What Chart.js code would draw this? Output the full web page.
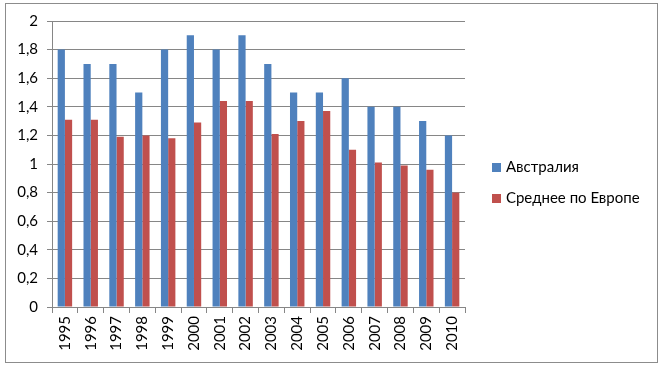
<!DOCTYPE html>
<html>
<head>
<meta charset="utf-8">
<script src="https://cdn.jsdelivr.net/npm/chart.js@4"></script>
<style>
  body { margin: 0; background: #fff; font-family: Lato, "Open Sans", sans-serif; }
  #wrap { position: absolute; left: 0; top: 0; width: 662px; height: 366px; }
  #frame { position: absolute; left: 5px; top: 3px; width: 651px; height: 358px; border: 1px solid #8c8c8c; }
  #legend { position: absolute; left: 492px; top: 156px; font-size: 15px; color: #000; }
  #legend div { height: 31px; line-height: 20px; white-space: nowrap; }
  #legend span { display: inline-block; width: 9px; height: 9px; margin-right: 5px; vertical-align: 0px; }
</style>
</head>
<body>
<div id="frame"></div>
<div id="wrap"><canvas id="myChart" width="662" height="366"></canvas></div>
<div id="legend"></div>
<script>
const years = ["1995", "1996", "1997", "1998", "1999", "2000", "2001", "2002",
  "2003", "2004", "2005", "2006", "2007", "2008", "2009", "2010"];
const australia = [1.8, 1.7, 1.7, 1.5, 1.8, 1.9, 1.8, 1.9, 1.7, 1.5, 1.5, 1.6, 1.4, 1.4, 1.3, 1.2];
const europeAvg = [1.31, 1.31, 1.19, 1.2, 1.18, 1.29, 1.44, 1.44, 1.21, 1.3, 1.37, 1.1, 1.01, 0.99, 0.96, 0.8];
const seriesNames = ["Австралия", "Среднее по Европе"];
const seriesColors = ["#4f81bd", "#c0504d"];

const fontFamily = "Lato, 'Open Sans', sans-serif";

const chart = new Chart("myChart", {
  type: "bar",
  data: {
    labels: years,
    datasets: [
      { label: seriesNames[0], data: australia, backgroundColor: seriesColors[0] },
      { label: seriesNames[1], data: europeAvg, backgroundColor: seriesColors[1] }
    ]
  },
  options: {
    responsive: false,
    animation: false,
    layout: { padding: { left: 0, top: 21, right: 197, bottom: 0 } },
    datasets: { bar: { categoryPercentage: 0.56, barPercentage: 1 } },
    plugins: {
      tooltip: { enabled: false },
      legend: { display: false }
    },
    scales: {
      x: {
        afterFit: s => { s.height = 59; },
        grid: { display: true, drawOnChartArea: false, offset: true, tickLength: 6, color: "#868686" },
        border: { color: "#868686" },
        ticks: {
          minRotation: 90, maxRotation: 90, color: "#000", padding: 3,
          font: { family: fontFamily, size: 15 }
        }
      },
      y: {
        min: 0, max: 2,
        afterFit: s => { s.width = 52; },
        grid: { color: "#868686", tickLength: 5 },
        border: { color: "#868686" },
        ticks: {
          stepSize: 0.2, color: "#000", padding: 9,
          font: { family: fontFamily, size: 15 },
          callback: v => String(Math.round(v * 10) / 10).replace(".", ",")
        }
      }
    }
  }
});

// html legend, same look as the excel one
const legendEl = document.getElementById("legend");
chart.data.datasets.forEach(ds => {
  const row = document.createElement("div");
  row.innerHTML = `<span style="background:${ds.backgroundColor}"></span>${ds.label}`;
  legendEl.appendChild(row);
});
</script>
</body>
</html>
